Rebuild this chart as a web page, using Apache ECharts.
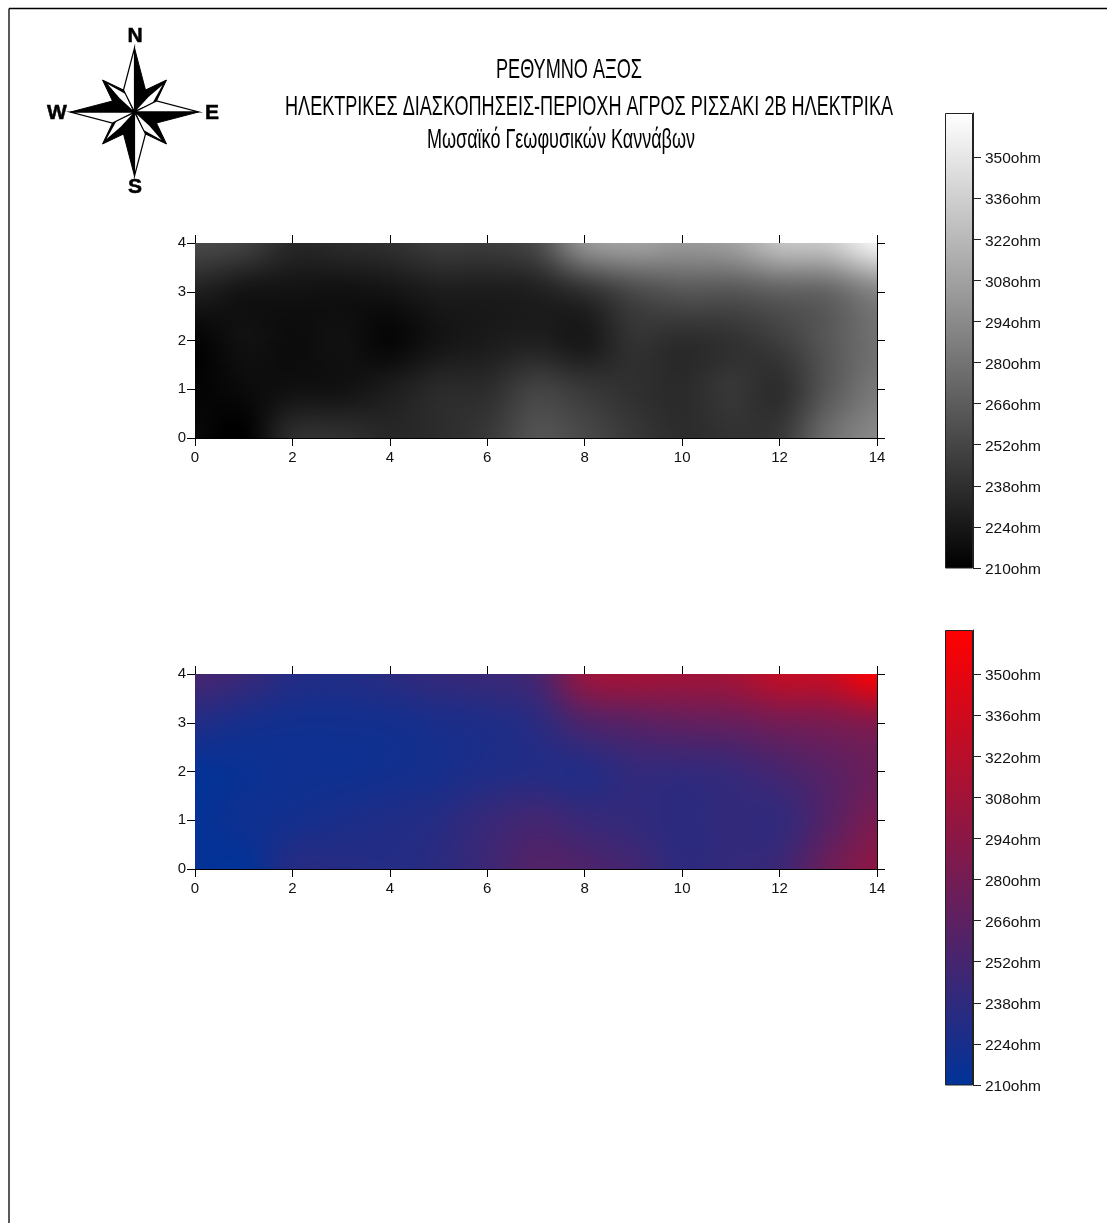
<!DOCTYPE html>
<html>
<head>
<meta charset="utf-8">
<style>html,body{margin:0;padding:0;background:#fff}#c{width:1107px;height:1223px}</style>
<script src="https://cdn.jsdelivr.net/npm/echarts@6/dist/echarts.min.js"></script>
</head>
<body>
<div id="c"></div>
<script>
// ---- data (ohm at integer grid nodes) ----
const xNodes = [0,1,2,3,4,5,6,7,8,9,10,11,12,13,14];
const yNodes = [0,1,2,3,4];
const grayRow0 = [215,210,237,239,234,237,244,260,254,244,237,240,244,276,293];
const grayRow1 = [212,216,220,221,227,235,237,250,244,239,236,243,238,263,283];
const grayRow2 = [212,220,217,220,214,222,226,229,225,240,237,240,248,263,278];
const grayRow3 = [229,222,221,220,222,227,227,229,239,254,262,262,268,272,290];
const grayRow4 = [254,249,234,236,239,246,246,255,298,307,302,307,327,332,358];
const colorRow0 = [213,212,232,233,232,236,247,260,257,250,238,241,247,275,295];
const colorRow1 = [213,218,222,226,229,233,243,250,244,241,236,241,241,262,284];
const colorRow2 = [213,216,219,219,221,224,229,232,232,241,241,244,253,264,275];
const colorRow3 = [230,224,221,221,222,226,229,236,257,264,269,272,280,284,291];
const colorRow4 = [252,244,232,230,235,241,244,253,300,308,306,309,326,331,360];
const legendTicks = [210,224,238,252,266,280,294,308,322,336,350];
const legendMin = 210, legendMax = 365;
const titleLines = ['ΡΕΘΥΜΝΟ ΑΞΟΣ','ΗΛΕΚΤΡΙΚΕΣ ΔΙΑΣΚΟΠΗΣΕΙΣ-ΠΕΡΙΟΧΗ ΑΓΡΟΣ ΡΙΣΣΑΚΙ 2Β ΗΛΕΚΤΡΙΚΑ','Μωσαϊκό Γεωφυσικών Καννάβων'];

const grayGrid = [grayRow0,grayRow1,grayRow2,grayRow3,grayRow4];
const colorGrid = [colorRow0,colorRow1,colorRow2,colorRow3,colorRow4];
const grayEnds = [[0,0,0],[255,255,255]];
const blueRedEnds = [[0,51,153],[255,0,0]];

function colorOf(v, ends){
  let t=(v-legendMin)/(legendMax-legendMin); t=Math.max(0,Math.min(1,t));
  const c=ends[0].map((a,i)=>Math.round(a+(ends[1][i]-a)*t));
  return 'rgb('+c.join(',')+')';
}
// smooth display shading between the measured nodes (the series itself holds only the nodes)
function cr(p0,p1,p2,p3,t){
  return 0.5*(2*p1+(p2-p0)*t+(2*p0-5*p1+4*p2-p3)*t*t+(3*p1-p0-3*p2+p3)*t*t*t);
}
function shade(grid,x,y,tx,ty){
  const row=j=>grid[Math.max(0,Math.min(4,j))];
  const at=(j)=>{const r=row(j),g=i=>r[Math.max(0,Math.min(14,i))];
    return cr(g(x-1),g(x),g(x+1),g(x+2),tx);};
  return cr(at(y-1),at(y),at(y+1),at(y+2),ty);
}
function fieldItem(grid,ends){
  const stops=[0,.125,.25,.375,.5,.625,.75,.875,1];
  return function(params,api){
    const x=api.value(0), y=api.value(1);
    if(x>=xNodes[xNodes.length-1]||y>=yNodes[yNodes.length-1]) return null;
    const children=[];
    const p0=api.coord([x,y]), p1=api.coord([x+1,y+1]);
    const left=Math.round(p0[0]), right=Math.round(p1[0]);
    const bottom=Math.round(p0[1]), top=Math.round(p1[1]);
    for(let py=top;py<bottom;py++){
      const ty=(p0[1]-(py+0.5))/(p0[1]-p1[1]);
      children.push({type:'rect',silent:true,
        shape:{x:left,y:py,width:right-left,height:1},
        style:{fill:new echarts.graphic.LinearGradient(0,0,1,0,
          stops.map(o=>({offset:o,color:colorOf(shade(grid,x,y,o,ty),ends)})))}});
    }
    return {type:'group',children};
  };
}
function nodes(grid){
  const out=[];
  yNodes.forEach(y=>xNodes.forEach(x=>out.push([x,y,grid[y][x]])));
  return out;
}

const plots=[{top:243,height:195},{top:674,height:195}];
const bars=[{top:113,height:455},{top:630,height:455}];
const labelFont={fontFamily:'Liberation Sans',fontSize:15,color:'#111'};
const line={show:true,onZero:false,lineStyle:{color:'#000',width:1}};
const tick={show:true,length:8,lineStyle:{color:'#000',width:1}};

const grid=[],xAxis=[],yAxis=[],series=[];
plots.forEach((p,i)=>{
  grid.push({left:195,width:682,top:p.top,height:p.height,show:false});
  const gi=grid.length-1;
  const xi=xAxis.length, yi=yAxis.length;
  ['bottom','top'].forEach(pos=>xAxis.push({type:'value',gridIndex:gi,position:pos,min:0,max:14,interval:2,
    axisLine:line,axisTick:tick,splitLine:{show:false},
    axisLabel:Object.assign({show:pos==='bottom',margin:12,showMaxLabel:true,showMinLabel:true},labelFont)}));
  ['left','right'].forEach(pos=>yAxis.push({type:'value',gridIndex:gi,position:pos,min:0,max:4,interval:1,
    axisLine:line,axisTick:tick,splitLine:{show:false},
    axisLabel:Object.assign({show:pos==='left',margin:9,showMaxLabel:true,showMinLabel:true},labelFont)}));
  const g=i===0?grayGrid:colorGrid, ends=i===0?grayEnds:blueRedEnds;
  series.push({type:'custom',xAxisIndex:xi,yAxisIndex:yi,clip:true,silent:true,z:1,
    coordinateSystem:'cartesian2d',animation:false,progressive:0,
    encode:{x:0,y:1},data:nodes(g),renderItem:fieldItem(g,ends)});
});
bars.forEach((b,i)=>{
  grid.push({left:945,width:28,top:b.top,height:b.height,show:false});
  const gi=grid.length-1, xi=xAxis.length, yi=yAxis.length;
  const ends=i===0?grayEnds:blueRedEnds;
  xAxis.push({type:'category',gridIndex:gi,data:['ohm'],show:false});
  yAxis.push({type:'value',gridIndex:gi,position:'right',min:legendMin,max:legendMax,
    axisLine:{show:true,lineStyle:{color:'#222',width:1}},
    axisTick:{show:true,length:8,customValues:legendTicks,lineStyle:{color:'#222',width:1}},
    splitLine:{show:false},
    axisLabel:{show:true,margin:12,customValues:legendTicks,formatter:'{value}ohm',verticalAlign:'top',lineHeight:4,
      fontFamily:'Liberation Sans',fontSize:15.5,color:'#111'}});
  series.push({type:'bar',xAxisIndex:xi,yAxisIndex:yi,barWidth:'100%',silent:true,animation:false,
    data:[legendMax],
    itemStyle:{borderColor:'#222',borderWidth:1,color:new echarts.graphic.LinearGradient(0,0,0,1,[
      {offset:0,color:colorOf(legendMax,ends)},{offset:1,color:colorOf(legendMin,ends)}])}});
});

// ---- compass rose and title text ----
const cx=134.5, cy=112;
function rot(p,k){let [a,b]=p;for(let i=0;i<k;i++){[a,b]=[-b,a];}return [cx+a,cy+b];}
const compass=[];
for(let k=0;k<4;k++){
  compass.push({type:'polygon',shape:{points:[[0,0],[11,-22],[32,-32],[22,-11]].map(p=>rot(p,k))},style:{fill:'#000',stroke:'#000',lineWidth:1}});
  compass.push({type:'polygon',shape:{points:[[2,-2],[14,-15],[28,-27],[18,-9]].map(p=>rot(p,k))},style:{fill:'#fff'}});
}
for(let k=0;k<4;k++){
  compass.push({type:'polygon',shape:{points:[[0,0],[-11,-22],[0,-64]].map(p=>rot(p,k))},style:{fill:'#fff',stroke:'#000',lineWidth:1.2}});
  compass.push({type:'polygon',shape:{points:[[0,0],[11,-22],[0,-64]].map(p=>rot(p,k))},style:{fill:'#000',stroke:'#000',lineWidth:1}});
}
const compassLetters=[['N',135,36],['W',57,113],['E',212,113],['S',135,187]];
compassLetters.forEach(l=>compass.push({type:'text',x:l[1],y:l[2],style:{text:l[0],
  font:'bold 21px "Liberation Sans"',fill:'#000',stroke:'#000',lineWidth:0.5,align:'center',verticalAlign:'middle'}}));

const measure=document.createElement('canvas').getContext('2d');
const titleFont='28px "Liberation Sans"';
measure.font=titleFont;
const titleBoxes=[[496,642,70],[285,893,107],[427,695,140]];
const titleEls=titleLines.map((t,i)=>{
  const b=titleBoxes[i];
  return {type:'text',x:b[0],y:b[2],scaleX:(b[1]-b[0])/measure.measureText(t).width,
    style:{text:t,font:titleFont,fill:'#000',align:'left',verticalAlign:'middle'}};
});
const frame=[
  {type:'line',shape:{x1:9,y1:8.5,x2:1107,y2:8.5},style:{stroke:'#000',lineWidth:1.3}},
  {type:'line',shape:{x1:9,y1:8.5,x2:9,y2:1223},style:{stroke:'#000',lineWidth:1.3}}
];

const chart=echarts.init(document.getElementById('c'),null,{renderer:'canvas',width:1107,height:1223});
chart.setOption({backgroundColor:'#fff',animation:false,grid,xAxis,yAxis,series,
  graphic:{elements:frame.concat(compass,titleEls)}});
</script>
</body>
</html>
